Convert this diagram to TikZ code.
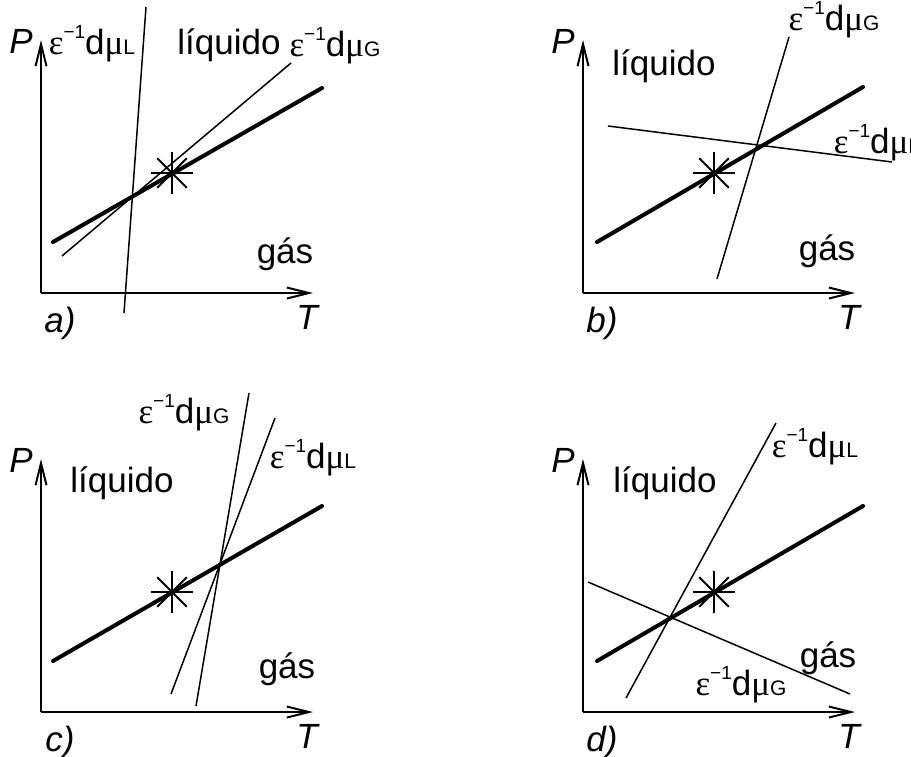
\documentclass[tikz,border=0pt]{standalone}
\usepackage{fontspec}
\setmainfont{Liberation Sans}
\newfontfamily\grkfont{Liberation Serif}
\usepackage{tikz}
\usetikzlibrary{arrows.meta}
\newcommand{\epsdmu}[1]{{\grkfont ε}\raisebox{0.85ex}{\fontsize{9.5}{10}\selectfont −1}d{\grkfont μ}{\fontsize{10.5}{12}\selectfont #1}}
\tikzset{
  lbl/.style={font=\fontsize{17.5}{21}\selectfont, inner sep=0pt, anchor=base},
  ilbl/.style={lbl, font=\fontsize{17.5}{21}\selectfont\itshape},
  axis/.style={line width=1.3pt, -{Straight Barb[length=11pt,width=5.5pt,line width=1pt]}},
  coex/.style={line width=2pt, line cap=round},
  chem/.style={line width=0.75pt},
}

\begin{document}
\begin{tikzpicture}[x=0.5pt, y=-0.5pt]
  \useasboundingbox (0,0) rectangle (911,756);

  % Axes, star and common labels of the four panels
  \foreach \ox/\oy/\tag in {41/293/a, 583/293/b, 41/712/c, 583/712/d} {
    \draw[axis] (\ox,\oy) -- (\ox,\oy-253);
    \draw[axis] (\ox,\oy) -- (\ox+272,\oy);
    \node[ilbl] (P-\tag) at (\ox-20,\oy-240) {P};
    \node[ilbl] (T-\tag) at (\ox+266,\oy+36) {T};
    \node[ilbl] (n-\tag) at (\ox+19,\oy+39) {\tag)};
    % critical point
    \begin{scope}[shift={(\ox+131,\oy-120)}, line width=0.9pt]
      \foreach \ang in {0,45,...,135}
        \draw (\ang:21) -- (\ang+180:21);
    \end{scope}
  }

  % a)
  \draw[coex] (53,242) -- (322,88);
  \draw[chem] (62,256) -- (291,63);
  \draw[chem] (146,7) -- (124,313);
  \node[lbl] (mul-a) at (92,54) {\epsdmu{L}};
  \node[lbl] (liq-a) at (229,54) {líquido};
  \node[lbl] (mug-a) at (335,56) {\epsdmu{G}};
  \node[lbl] (gas-a) at (285,263) {gás};

  % b)
  \draw[coex] (597,242) -- (863,87);
  \draw[chem] (789,37) -- (717,279);
  \draw[chem] (608,126) -- (892,162);
  \node[lbl] (liq-b) at (664,75) {líquido};
  \node[lbl] (mug-b) at (834,30) {\epsdmu{G}};
  \node[lbl] (mul-b) at (877,153) {\epsdmu{L}};
  \node[lbl] (gas-b) at (827,260) {gás};

  % c)
  \draw[coex] (53,661) -- (322,506);
  \draw[chem] (249,393) -- (196,706);
  \draw[chem] (275,418) -- (171,694);
  \node[lbl] (liq-c) at (122,492) {líquido};
  \node[lbl] (mug-c) at (184,423) {\epsdmu{G}};
  \node[lbl] (mul-c) at (313,468) {\epsdmu{L}};
  \node[lbl] (gas-c) at (287,678) {gás};

  % d)
  \draw[coex] (597,661) -- (863,506);
  \draw[chem] (776,423) -- (626,698);
  \draw[chem] (588,582) -- (850,694);
  \node[lbl] (liq-d) at (665,492) {líquido};
  \node[lbl] (mul-d) at (815,457) {\epsdmu{L}};
  \node[lbl] (gas-d) at (828,667) {gás};
  \node[lbl] (mug-d) at (741,695) {\epsdmu{G}};
\end{tikzpicture}
\end{document}
